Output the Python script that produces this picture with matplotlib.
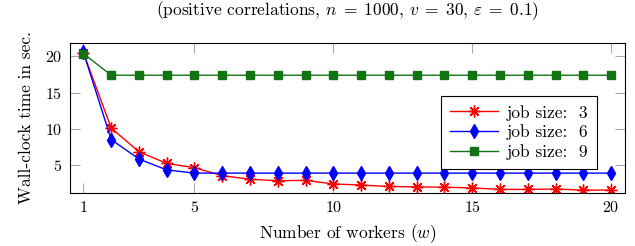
import numpy as np
import matplotlib.pyplot as plt

plt.rcParams['font.family'] = 'serif'
plt.rcParams['font.serif'] = ['cmr10']
plt.rcParams['mathtext.fontset'] = 'cm'
plt.rcParams['axes.formatter.use_mathtext'] = True

workers = list(range(1, 21))
job3 = [20.5, 10.1, 6.8, 5.2, 4.6, 3.5, 3.0, 2.8, 2.85, 2.35, 2.2, 2.0, 1.95, 1.9, 1.8, 1.6, 1.6, 1.65, 1.5, 1.5]
job6 = [20.6, 8.5, 5.8, 4.3, 3.85, 3.85, 3.85, 3.85, 3.85, 3.85, 3.85, 3.85, 3.85, 3.85, 3.85, 3.85, 3.85, 3.85, 3.85, 3.85]
job9 = [20.4] + [17.4] * 19

fs = 12.5
fig = plt.figure(figsize=(6.35, 2.46), dpi=100)
ax = fig.add_axes([69.5 / 635, 1 - 193 / 246, 555.5 / 635, 150.3 / 246])

ax.plot(workers, job3, color='red', lw=1.0, marker=(8, 2, 0), ms=8.5, mew=1.0,
        label='job size:  3')
ax.plot(workers, job6, color='blue', lw=1.0, marker='d', ms=7,
        label='job size:  6')
ax.plot(workers, job9, color='#127312', lw=1.0, marker='s', ms=5.5,
        label='job size:  9')

ax.set_xlim(0.5, 20.5)
ax.set_ylim(1.1, 21.9)
ax.set_xticks([1, 5, 10, 15, 20])
ax.set_yticks([5, 10, 15, 20])
ax.tick_params(direction='in', length=7, width=0.8, color='#aaaaaa',
               top=True, right=True, labelsize=11.5, pad=5)
for s in ax.spines.values():
    s.set_linewidth(0.8)

ax.set_xlabel('Number of workers ($w$)', fontsize=fs, labelpad=5)
ax.set_ylabel('Wall-clock time in sec.', fontsize=fs, labelpad=8)
fig.text(ax.get_position().x0 + ax.get_position().width / 2, 1 - 11 / 246,
         r'(positive correlations, $n\;=\;1000$, $v\;=\;30$, $\varepsilon\;=\;0.1$)',
         fontsize=fs, ha='center', va='center')

leg = ax.legend(loc='upper left', bbox_to_anchor=(0.669, 0.645),
                fontsize=fs, fancybox=False, edgecolor='black',
                framealpha=1, handlelength=2.8, borderpad=0.5, labelspacing=0.22,
                handletextpad=0.5, borderaxespad=0)
leg.get_frame().set_linewidth(0.8)

plt.savefig('out.png', dpi=100)
